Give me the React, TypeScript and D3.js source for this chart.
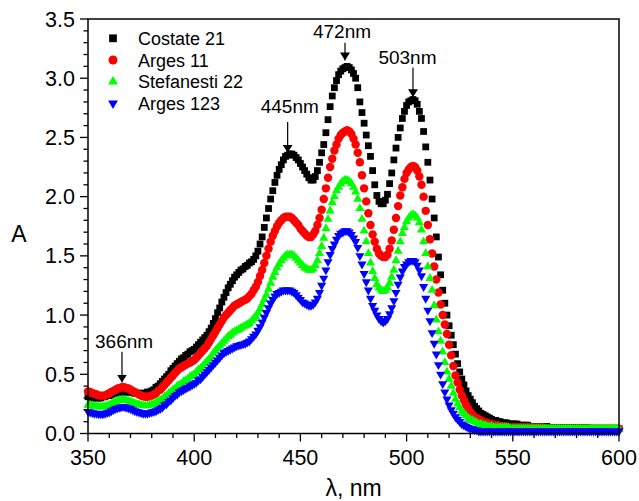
import React from 'react';
import * as d3 from 'd3';

// wavelength grid of the spectra (one point per nm)
const wavelengths = d3.range(350, 601);

const costate21 = [
  0.31, 0.31, 0.30, 0.30, 0.30, 0.30, 0.30, 0.31, 0.31, 0.32,
  0.32, 0.33, 0.34, 0.34, 0.35, 0.35, 0.35, 0.35, 0.35, 0.35,
  0.35, 0.35, 0.34, 0.34, 0.34, 0.34, 0.34, 0.34, 0.35, 0.35,
  0.36, 0.37, 0.39, 0.40, 0.42, 0.44, 0.46, 0.48, 0.50, 0.53,
  0.55, 0.57, 0.59, 0.61, 0.63, 0.64, 0.66, 0.67, 0.69, 0.70,
  0.71, 0.73, 0.75, 0.77, 0.79, 0.81, 0.83, 0.86, 0.89, 0.93,
  0.97, 1.02, 1.06, 1.11, 1.15, 1.19, 1.23, 1.26, 1.29, 1.32,
  1.34, 1.36, 1.38, 1.39, 1.41, 1.42, 1.44, 1.45, 1.47, 1.50,
  1.54, 1.60, 1.66, 1.74, 1.82, 1.90, 1.98, 2.05, 2.12, 2.18,
  2.23, 2.27, 2.31, 2.34, 2.35, 2.36, 2.36, 2.35, 2.33, 2.31,
  2.28, 2.25, 2.22, 2.19, 2.16, 2.14, 2.14, 2.17, 2.22, 2.29,
  2.37, 2.44, 2.54, 2.65, 2.76, 2.85, 2.92, 2.98, 3.03, 3.06,
  3.08, 3.09, 3.10, 3.09, 3.07, 3.04, 3.00, 2.92, 2.80, 2.71,
  2.62, 2.52, 2.43, 2.34, 2.22, 2.10, 2.01, 1.96, 1.94, 1.94,
  1.97, 2.02, 2.11, 2.20, 2.31, 2.41, 2.50, 2.58, 2.66, 2.72,
  2.77, 2.80, 2.81, 2.82, 2.81, 2.78, 2.72, 2.66, 2.55, 2.42,
  2.29, 2.14, 1.98, 1.82, 1.66, 1.49, 1.34, 1.21, 1.10, 1.00,
  0.91, 0.83, 0.75, 0.67, 0.59, 0.52, 0.46, 0.41, 0.36, 0.32,
  0.29, 0.26, 0.23, 0.21, 0.19, 0.17, 0.16, 0.15, 0.14, 0.13,
  0.12, 0.11, 0.11, 0.10, 0.10, 0.09, 0.09, 0.09, 0.08, 0.08,
  0.08, 0.08, 0.08, 0.07, 0.07, 0.07, 0.07, 0.07, 0.06, 0.06,
  0.06, 0.06, 0.06, 0.06, 0.06, 0.06, 0.06, 0.05, 0.05, 0.05,
  0.05, 0.05, 0.05, 0.05, 0.05, 0.05, 0.05, 0.05, 0.05, 0.05,
  0.05, 0.05, 0.05, 0.05, 0.05, 0.05, 0.04, 0.04, 0.04, 0.04,
  0.04, 0.04, 0.04, 0.04, 0.04, 0.04, 0.04, 0.04, 0.04, 0.04,
  0.04,
];

const arges11 = [
  0.355, 0.35, 0.34, 0.335, 0.33, 0.32, 0.32, 0.32, 0.32, 0.33,
  0.34, 0.35, 0.36, 0.37, 0.38, 0.385, 0.39, 0.39, 0.385, 0.38,
  0.37, 0.36, 0.35, 0.34, 0.33, 0.32, 0.315, 0.31, 0.31, 0.315,
  0.32, 0.33, 0.34, 0.36, 0.37, 0.39, 0.41, 0.43, 0.45, 0.47,
  0.49, 0.51, 0.53, 0.55, 0.56, 0.57, 0.58, 0.59, 0.60, 0.61,
  0.62, 0.64, 0.66, 0.68, 0.70, 0.72, 0.74, 0.77, 0.80, 0.83,
  0.86, 0.89, 0.92, 0.95, 0.98, 1.00, 1.02, 1.04, 1.06, 1.08,
  1.09, 1.10, 1.11, 1.12, 1.13, 1.14, 1.16, 1.18, 1.21, 1.24,
  1.28, 1.33, 1.38, 1.44, 1.50, 1.56, 1.62, 1.67, 1.71, 1.75,
  1.78, 1.80, 1.82, 1.83, 1.83, 1.83, 1.82, 1.80, 1.78, 1.76,
  1.73, 1.71, 1.69, 1.67, 1.66, 1.66, 1.68, 1.71, 1.76, 1.82,
  1.89, 1.98, 2.07, 2.16, 2.25, 2.32, 2.39, 2.44, 2.49, 2.52,
  2.54, 2.55, 2.56, 2.55, 2.53, 2.49, 2.44, 2.37, 2.29, 2.18,
  2.07, 1.96, 1.86, 1.76, 1.68, 1.62, 1.56, 1.52, 1.50, 1.49,
  1.49, 1.51, 1.56, 1.63, 1.72, 1.82, 1.92, 2.01, 2.08, 2.15,
  2.20, 2.23, 2.25, 2.26, 2.25, 2.22, 2.17, 2.10, 2.00, 1.88,
  1.76, 1.64, 1.52, 1.41, 1.30, 1.19, 1.09, 1.00, 0.92, 0.84,
  0.75, 0.66, 0.57, 0.49, 0.43, 0.37, 0.32, 0.28, 0.24, 0.21,
  0.18, 0.16, 0.14, 0.13, 0.12, 0.11, 0.10, 0.09, 0.09, 0.08,
  0.08, 0.07, 0.07, 0.07, 0.06, 0.06, 0.06, 0.06, 0.05, 0.05,
  0.05, 0.05, 0.05, 0.05, 0.05, 0.05, 0.05, 0.05, 0.05, 0.05,
  0.05, 0.05, 0.05, 0.05, 0.05, 0.04, 0.04, 0.04, 0.04, 0.04,
  0.04, 0.04, 0.04, 0.04, 0.04, 0.04, 0.04, 0.04, 0.04, 0.04,
  0.04, 0.04, 0.04, 0.04, 0.04, 0.04, 0.04, 0.04, 0.04, 0.04,
  0.04, 0.04, 0.04, 0.04, 0.04, 0.04, 0.04, 0.04, 0.04, 0.04,
  0.04,
];

const stefanesti22 = [
  0.24, 0.24, 0.235, 0.23, 0.23, 0.225, 0.225, 0.225, 0.23, 0.235,
  0.24, 0.25, 0.26, 0.27, 0.275, 0.28, 0.285, 0.285, 0.28, 0.275,
  0.27, 0.26, 0.255, 0.25, 0.245, 0.24, 0.235, 0.235, 0.235, 0.24,
  0.245, 0.25, 0.26, 0.27, 0.28, 0.29, 0.31, 0.32, 0.34, 0.35,
  0.37, 0.38, 0.40, 0.41, 0.42, 0.44, 0.45, 0.46, 0.48, 0.49,
  0.50, 0.52, 0.54, 0.55, 0.57, 0.59, 0.61, 0.63, 0.65, 0.68,
  0.70, 0.72, 0.74, 0.76, 0.78, 0.80, 0.82, 0.83, 0.85, 0.86,
  0.87, 0.88, 0.89, 0.90, 0.91, 0.92, 0.93, 0.95, 0.97, 0.99,
  1.02, 1.05, 1.09, 1.13, 1.17, 1.22, 1.27, 1.32, 1.36, 1.40,
  1.43, 1.46, 1.48, 1.50, 1.51, 1.51, 1.51, 1.50, 1.48, 1.46,
  1.44, 1.42, 1.40, 1.39, 1.38, 1.38, 1.39, 1.42, 1.46, 1.52,
  1.58, 1.65, 1.73, 1.81, 1.88, 1.95, 2.00, 2.05, 2.08, 2.11,
  2.13, 2.14, 2.14, 2.13, 2.11, 2.08, 2.04, 1.98, 1.90, 1.81,
  1.71, 1.62, 1.52, 1.44, 1.37, 1.31, 1.26, 1.23, 1.21, 1.20,
  1.21, 1.23, 1.27, 1.32, 1.38, 1.46, 1.54, 1.62, 1.69, 1.74,
  1.79, 1.82, 1.84, 1.85, 1.84, 1.82, 1.78, 1.72, 1.62, 1.52,
  1.41, 1.31, 1.21, 1.08, 0.96, 0.86, 0.78, 0.69, 0.60, 0.52,
  0.46, 0.40, 0.34, 0.29, 0.25, 0.22, 0.19, 0.17, 0.15, 0.13,
  0.12, 0.11, 0.10, 0.09, 0.08, 0.08, 0.07, 0.07, 0.06, 0.06,
  0.06, 0.05, 0.05, 0.05, 0.05, 0.05, 0.05, 0.05, 0.05, 0.04,
  0.04, 0.04, 0.04, 0.04, 0.04, 0.04, 0.04, 0.04, 0.04, 0.04,
  0.04, 0.04, 0.04, 0.04, 0.04, 0.04, 0.04, 0.04, 0.04, 0.04,
  0.04, 0.04, 0.04, 0.04, 0.04, 0.04, 0.04, 0.04, 0.04, 0.04,
  0.04, 0.04, 0.04, 0.04, 0.04, 0.04, 0.04, 0.04, 0.04, 0.04,
  0.04, 0.04, 0.04, 0.04, 0.04, 0.04, 0.04, 0.04, 0.04, 0.04,
  0.04,
];

const arges123 = [
  0.185, 0.18, 0.175, 0.17, 0.17, 0.165, 0.165, 0.165, 0.17, 0.175,
  0.18, 0.19, 0.20, 0.21, 0.215, 0.22, 0.225, 0.225, 0.22, 0.215,
  0.21, 0.20, 0.19, 0.185, 0.18, 0.175, 0.17, 0.17, 0.17, 0.175,
  0.18, 0.185, 0.19, 0.20, 0.21, 0.22, 0.24, 0.25, 0.27, 0.28,
  0.30, 0.32, 0.33, 0.35, 0.36, 0.37, 0.38, 0.39, 0.40, 0.41,
  0.42, 0.43, 0.45, 0.46, 0.48, 0.50, 0.52, 0.54, 0.56, 0.58,
  0.60, 0.62, 0.64, 0.66, 0.68, 0.69, 0.70, 0.71, 0.72, 0.73,
  0.74, 0.745, 0.75, 0.755, 0.76, 0.77, 0.78, 0.80, 0.82, 0.84,
  0.87, 0.90, 0.94, 0.98, 1.02, 1.06, 1.10, 1.13, 1.16, 1.18,
  1.19, 1.20, 1.21, 1.21, 1.21, 1.21, 1.20, 1.19, 1.17, 1.15,
  1.13, 1.11, 1.10, 1.09, 1.08, 1.08, 1.09, 1.11, 1.14, 1.19,
  1.25, 1.31, 1.38, 1.45, 1.51, 1.56, 1.60, 1.64, 1.67, 1.69,
  1.70, 1.71, 1.71, 1.70, 1.68, 1.65, 1.62, 1.57, 1.50, 1.43,
  1.35, 1.28, 1.21, 1.14, 1.08, 1.04, 1.00, 0.97, 0.95, 0.94,
  0.95, 0.97, 1.01, 1.06, 1.12, 1.19, 1.26, 1.32, 1.37, 1.41,
  1.43, 1.45, 1.46, 1.46, 1.45, 1.42, 1.38, 1.33, 1.24, 1.14,
  1.04, 0.95, 0.85, 0.76, 0.67, 0.58, 0.50, 0.42, 0.35, 0.29,
  0.24, 0.20, 0.17, 0.14, 0.12, 0.10, 0.08, 0.07, 0.06, 0.05,
  0.04, 0.04, 0.03, 0.03, 0.02, 0.02, 0.02, 0.02, 0.02, 0.02,
  0.02, 0.02, 0.02, 0.02, 0.02, 0.02, 0.02, 0.02, 0.02, 0.02,
  0.02, 0.02, 0.02, 0.02, 0.02, 0.02, 0.02, 0.02, 0.02, 0.02,
  0.02, 0.02, 0.02, 0.02, 0.02, 0.02, 0.02, 0.02, 0.02, 0.02,
  0.02, 0.02, 0.02, 0.02, 0.02, 0.02, 0.02, 0.02, 0.02, 0.02,
  0.02, 0.02, 0.02, 0.02, 0.02, 0.02, 0.02, 0.02, 0.02, 0.02,
  0.02, 0.02, 0.02, 0.02, 0.02, 0.02, 0.02, 0.02, 0.02, 0.02,
  0.02,
];

const seriesNames = ['Costate 21', 'Arges 11', 'Stefanesti 22', 'Arges 123'];
const seriesValues = [costate21, arges11, stefanesti22, arges123];
const seriesColors = ['#000000', '#ff0000', '#00ff00', '#0000ff'];

const xTicks = [350, 400, 450, 500, 550, 600];
const yTicks = [0, 0.5, 1.0, 1.5, 2.0, 2.5, 3.0, 3.5];

// peak annotations
const peakLabels = ['366nm', '445nm', '472nm', '503nm'];
const peakArrowX = [366, 444, 471, 503];
const peakArrowFrom = [0.69, 2.63, 3.30, 3.09];
const peakArrowTo = [0.43, 2.37, 3.15, 2.84];
const peakLabelX = [367, 445, 469.6, 500.4];
const peakLabelY = [0.72, 2.71, 3.34, 3.12];

const W = 639;
const H = 501;
const margin = { top: 19, right: 20, bottom: 67.5, left: 88 };
const font = '"Liberation Sans", Arial, Helvetica, sans-serif';

const App = () => {
  const x = d3.scaleLinear().domain([350, 600]).range([margin.left, W - margin.right]);
  const y = d3.scaleLinear().domain([0, 3.5]).range([H - margin.bottom, margin.top]);

  const markerPaths = [
    d3.symbol().type(d3.symbolSquare).size(46)(),
    d3.symbol().type(d3.symbolCircle).size(56)(),
    d3.symbol().type(d3.symbolTriangle).size(36)(),
    d3.symbol().type(d3.symbolTriangle).size(36)(),
  ];
  const legendPaths = [
    d3.symbol().type(d3.symbolSquare).size(60)(),
    d3.symbol().type(d3.symbolCircle).size(64)(),
    d3.symbol().type(d3.symbolTriangle).size(42)(),
    d3.symbol().type(d3.symbolTriangle).size(42)(),
  ];
  const rot = (i: number) => (i === 3 ? ' rotate(180)' : '');

  const [x0, x1] = x.range();
  const [yb, yt] = y.range();
  const minorX = d3.range(350, 601, 10);
  const minorY = d3.range(0, 36).map(d => d / 10);

  return (
    <svg width={W} height={H} style={{ position: 'absolute', left: 0, top: 0, background: '#fff' }}
      fontFamily={font}>
      {/* data markers */}
      {seriesValues.map((vals, si) => (
        <g key={seriesNames[si]} fill={seriesColors[si]}>
          {wavelengths.map((w, i) => (
            <path key={w} d={markerPaths[si] as string}
              transform={`translate(${x(w)},${y(vals[i])})${rot(si)}`} />
          ))}
        </g>
      ))}

      {/* frame */}
      <rect x={x0} y={yt} width={x1 - x0} height={yb - yt} fill="none" stroke="#000" strokeWidth={1.5} />

      {/* x ticks */}
      {minorX.map(t => (
        <line key={'mx' + t} x1={x(t)} x2={x(t)} y1={yb} y2={yb + (t % 50 === 0 ? 8 : 4.5)} stroke="#000" strokeWidth={1.3} />
      ))}
      {xTicks.map(t => (
        <text key={'tx' + t} x={x(t)} y={yb + 31.5} textAnchor="middle" fontSize={21.5}>{t}</text>
      ))}

      {/* y ticks */}
      {minorY.map(t => (
        <line key={'my' + t} x1={x0 - (Math.round(t * 10) % 5 === 0 ? 8 : 4.5)} x2={x0} y1={y(t)} y2={y(t)} stroke="#000" strokeWidth={1.3} />
      ))}
      {yTicks.map(t => (
        <text key={'ty' + t} x={x0 - 13} y={y(t) + 7.5} textAnchor="end" fontSize={21.5}>{t.toFixed(1)}</text>
      ))}

      {/* axis titles */}
      <text x={19} y={242} textAnchor="middle" fontSize={23}>A</text>
      <text x={(x0 + x1) / 2} y={496} textAnchor="middle" fontSize={23}>λ, nm</text>

      {/* legend */}
      {seriesNames.map((name, i) => (
        <g key={'lg' + name} transform={`translate(0,${38.3 + i * 21.7})`}>
          <path d={legendPaths[i] as string} fill={seriesColors[i]} transform={`translate(113,0)${rot(i)}`} />
          <text x={138} y={6.5} fontSize={18}>{name}</text>
        </g>
      ))}

      {/* peak annotations */}
      <defs>
        <marker id="arrowHead" viewBox="0 0 8 10" refX={8} refY={5} markerWidth={8} markerHeight={10}
          markerUnits="userSpaceOnUse" orient="auto">
          <path d="M0,0 L8,5 L0,10 Z" fill="#000" />
        </marker>
      </defs>
      {peakLabels.map((lab, i) => (
        <g key={lab}>
          <line x1={x(peakArrowX[i])} x2={x(peakArrowX[i])} y1={y(peakArrowFrom[i])} y2={y(peakArrowTo[i])}
            stroke="#000" strokeWidth={1.2} markerEnd="url(#arrowHead)" />
          <text x={x(peakLabelX[i])} y={y(peakLabelY[i])} textAnchor="middle" fontSize={19}>{lab}</text>
        </g>
      ))}
    </svg>
  );
};

export default App;
